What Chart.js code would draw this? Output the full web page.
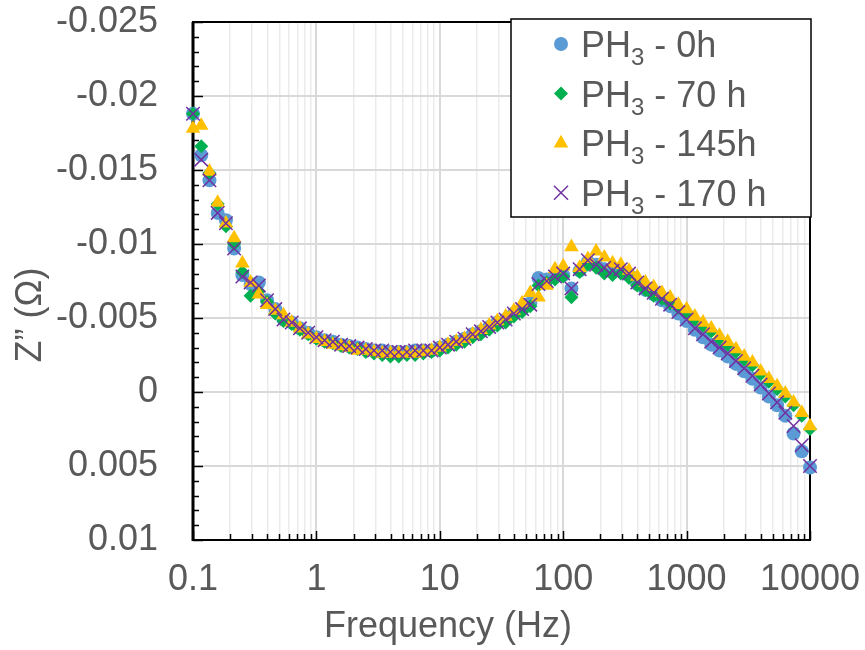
<!DOCTYPE html>
<html>
<head>
<meta charset="utf-8">
<script src="https://cdn.jsdelivr.net/npm/chart.js@4.4.0/dist/chart.umd.min.js"></script>
<style>
  html, body { margin: 0; padding: 0; background: #fff; }
  #wrap { width: 865px; height: 650px; }
</style>
</head>
<body>
<div id="wrap"><canvas id="chart" width="865" height="650"></canvas></div>
<script>
// Impedance spectra, imaginary part Z'' vs frequency, 4 exposure times
const freqHz = [
  0.1, 0.1166, 0.1359, 0.1585, 0.1848, 0.2154, 0.2512, 0.2929, 0.3415, 0.3981, 0.4642, 0.5412, 0.631, 0.7356, 0.8577,
  1, 1.166, 1.359, 1.585, 1.848, 2.154, 2.512, 2.929, 3.415, 3.981, 4.642, 5.412, 6.31, 7.356, 8.577,
  10, 11.66, 13.59, 15.85, 18.48, 21.54, 25.12, 29.29, 34.15, 39.81, 46.42, 54.12, 63.1, 73.56, 85.77,
  100, 116.6, 135.9, 158.5, 184.8, 215.4, 251.2, 292.9, 341.5, 398.1, 464.2, 541.2, 631, 735.6, 857.7,
  1000, 1166, 1359, 1585, 1848, 2154, 2512, 2929, 3415, 3981, 4642, 5412, 6310, 7356, 8577, 10000
];

const z0h = [
  -0.0188, -0.0160, -0.0143, -0.0121, -0.0116, -0.0097, -0.0079, -0.0073, -0.0074, -0.0062, -0.0056, -0.0049, -0.0047, -0.0043, -0.0040,
  -0.0037, -0.0035, -0.0034, -0.0032, -0.0031, -0.0030, -0.0029, -0.0028, -0.0028, -0.0027, -0.0027, -0.0027, -0.0028, -0.0028, -0.0028,
  -0.0030, -0.0032, -0.0034, -0.0036, -0.0039, -0.0041, -0.0044, -0.0047, -0.0049, -0.0053, -0.0056, -0.0060, -0.0077, -0.0076, -0.0078,
  -0.0079, -0.0070, -0.0082, -0.0088, -0.0086, -0.0083, -0.0081, -0.0082, -0.0079, -0.0073, -0.0069, -0.0066, -0.0062, -0.0058, -0.0053,
  -0.0048, -0.0042, -0.0037, -0.0032, -0.0028, -0.0024, -0.0019, -0.0014, -0.0009, -0.0003, 0.0003, 0.0009, 0.0016, 0.0028, 0.0040, 0.0051
];

const z70h = [
  -0.0188, -0.0166, -0.0148, -0.0127, -0.0112, -0.0100, -0.0081, -0.0065, -0.0068, -0.0061, -0.0053, -0.0048, -0.0046, -0.0042, -0.0039,
  -0.0036, -0.0034, -0.0033, -0.0031, -0.0030, -0.0029, -0.0027, -0.0026, -0.0025, -0.0024, -0.0024, -0.0025, -0.0025, -0.0026, -0.0027,
  -0.0028, -0.0030, -0.0032, -0.0034, -0.0037, -0.0039, -0.0042, -0.0045, -0.0047, -0.0051, -0.0054, -0.0058, -0.0072, -0.0074, -0.0076,
  -0.0078, -0.0064, -0.0081, -0.0086, -0.0084, -0.0080, -0.0079, -0.0080, -0.0077, -0.0072, -0.0069, -0.0065, -0.0063, -0.0060, -0.0057,
  -0.0054, -0.0049, -0.0045, -0.0041, -0.0036, -0.0032, -0.0027, -0.0022, -0.0018, -0.0012, -0.0007, -0.0002, 0.0003, 0.0009, 0.0016, 0.0025
];

const z145h = [
  -0.0178, -0.0180, -0.0149, -0.0128, -0.0114, -0.0104, -0.0087, -0.0074, -0.0066, -0.0059, -0.0055, -0.0052, -0.0047, -0.0043, -0.0039,
  -0.0036, -0.0034, -0.0032, -0.0031, -0.0030, -0.0028, -0.0028, -0.0027, -0.0026, -0.0026, -0.0026, -0.0026, -0.0026, -0.0027, -0.0028,
  -0.0030, -0.0032, -0.0034, -0.0036, -0.0039, -0.0042, -0.0045, -0.0048, -0.0051, -0.0055, -0.0060, -0.0067, -0.0064, -0.0072, -0.0083,
  -0.0085, -0.0098, -0.0084, -0.0090, -0.0095, -0.0091, -0.0087, -0.0086, -0.0082, -0.0078, -0.0074, -0.0071, -0.0067, -0.0064, -0.0059,
  -0.0056, -0.0051, -0.0047, -0.0043, -0.0038, -0.0034, -0.0029, -0.0024, -0.0020, -0.0014, -0.0009, -0.0004, 0.0001, 0.0007, 0.0014, 0.0023
];

const z170h = [
  -0.0188, -0.0157, -0.0143, -0.0121, -0.0114, -0.0097, -0.0078, -0.0074, -0.0072, -0.0062, -0.0056, -0.0049, -0.0047, -0.0043, -0.0040,
  -0.0037, -0.0035, -0.0034, -0.0032, -0.0031, -0.0030, -0.0029, -0.0028, -0.0028, -0.0027, -0.0027, -0.0027, -0.0028, -0.0028, -0.0028,
  -0.0030, -0.0032, -0.0034, -0.0036, -0.0039, -0.0041, -0.0044, -0.0047, -0.0049, -0.0053, -0.0056, -0.0059, -0.0073, -0.0075, -0.0078,
  -0.0080, -0.0070, -0.0083, -0.0089, -0.0086, -0.0084, -0.0082, -0.0083, -0.0080, -0.0074, -0.0070, -0.0067, -0.0063, -0.0059, -0.0054,
  -0.0049, -0.0043, -0.0039, -0.0034, -0.0030, -0.0026, -0.0021, -0.0016, -0.0011, -0.0005, 0.0001, 0.0007, 0.0014, 0.0023, 0.0036, 0.0050
];

const seriesLabels = ["0h", "70 h", "145h", "170 h"];
const xDecades = [0.1, 1, 10, 100, 1000, 10000];
const xTickLabels = ["0.1", "1", "10", "100", "1000", "10000"];

const TXT = "#595959";
const FONT = '"Liberation Sans", Arial, sans-serif';

// all 1..9 x 10^n positions for the log grid
var gridFreqs = [];
for (var d = 0; d < xDecades.length - 1; d++) {
  for (var m = 1; m <= 9; m++) gridFreqs.push(xDecades[d] * m);
}
gridFreqs.push(xDecades[xDecades.length - 1]);

function isDecade(v) {
  var l = Math.log10(v);
  return Math.abs(l - Math.round(l)) < 1e-6;
}

function pts(ys) {
  return freqHz.map(function (f, i) { return { x: f, y: ys[i] }; });
}

var styles = [
  { label: seriesLabels[0], data: z0h, shape: "circle", color: "#5B9BD5", r: 7, order: 4 },
  { label: seriesLabels[1], data: z70h, shape: "rectRot", color: "#00B050", r: 7, order: 3 },
  { label: seriesLabels[2], data: z145h, shape: "triangle", color: "#FFC000", r: 8.4, order: 2 },
  { label: seriesLabels[3], data: z170h, shape: "crossRot", color: "#7030A0", r: 9.5, order: 1 }
];

function drawShape(ctx, shape, x, y, r, color) {
  ctx.save();
  ctx.fillStyle = color;
  ctx.strokeStyle = color;
  ctx.beginPath();
  if (shape === "circle") {
    ctx.arc(x, y, r, 0, Math.PI * 2);
    ctx.fill();
  } else if (shape === "rectRot") {
    ctx.moveTo(x - r, y); ctx.lineTo(x, y - r); ctx.lineTo(x + r, y); ctx.lineTo(x, y + r);
    ctx.closePath(); ctx.fill();
  } else if (shape === "triangle") {
    ctx.moveTo(x, y - r);
    ctx.lineTo(x + r * 0.866, y + r / 2);
    ctx.lineTo(x - r * 0.866, y + r / 2);
    ctx.closePath(); ctx.fill();
  } else {
    var o = r * 0.7071;
    ctx.lineWidth = 1.5;
    ctx.moveTo(x - o, y - o); ctx.lineTo(x + o, y + o);
    ctx.moveTo(x + o, y - o); ctx.lineTo(x - o, y + o);
    ctx.stroke();
  }
  ctx.restore();
}

function noEdgePadding(s) {
  s.paddingTop = 0;
  s.paddingBottom = 0;
  s.paddingLeft = 0;
  s.paddingRight = 0;
}

/* ── plot frame, inner tick marks, titles, legend ── */
var framePlugin = {
  id: "frame",
  beforeDraw: function (chart) {
    var ctx = chart.ctx;
    ctx.save();
    ctx.fillStyle = "#fff";
    ctx.fillRect(0, 0, chart.width, chart.height);
    ctx.restore();
  },
  beforeDatasetsDraw: function (chart) {
    var ctx = chart.ctx, a = chart.chartArea;
    var xs = chart.scales.x, ys = chart.scales.y;
    ctx.save();
    ctx.strokeStyle = "#000";
    ctx.lineWidth = 1.5;
    ctx.beginPath();
    for (var i = 0; i <= 35; i++) {
      var py = Math.round(ys.getPixelForValue(-0.025 + i * 0.001)) + 0.5;
      ctx.moveTo(a.left, py);
      ctx.lineTo(a.left + (i % 5 === 0 ? 10 : 6), py);
    }
    gridFreqs.forEach(function (f) {
      var px = Math.round(xs.getPixelForValue(f)) + 0.5;
      ctx.moveTo(px, a.bottom);
      ctx.lineTo(px, a.bottom - (isDecade(f) ? 9 : 6));
    });
    ctx.stroke();
    ctx.lineWidth = 2;
    ctx.strokeRect(a.left, a.top, a.right - a.left, a.bottom - a.top);
    ctx.lineWidth = 3;
    ctx.beginPath();
    ctx.moveTo(a.left, a.top);
    ctx.lineTo(a.left, a.bottom + 1);
    ctx.stroke();
    ctx.restore();
  },
  afterDraw: function (chart) {
    var ctx = chart.ctx;
    ctx.save();
    // axis titles
    ctx.fillStyle = TXT;
    ctx.font = "36px " + FONT;
    ctx.textAlign = "center";
    ctx.textBaseline = "middle";
    ctx.fillText("Frequency (Hz)", 448, 627);
    ctx.translate(31, 315);
    ctx.rotate(-Math.PI / 2);
    ctx.fillText("Z\u201d (\u03a9)", 0, 0);
    ctx.restore();

    // legend box
    ctx.save();
    ctx.fillStyle = "#fff";
    ctx.fillRect(511, 19, 300, 198);
    ctx.strokeStyle = "#000";
    ctx.lineWidth = 1.5;
    ctx.strokeRect(511, 19, 300, 198);
    ctx.textBaseline = "alphabetic";
    ctx.textAlign = "left";
    styles.forEach(function (s, i) {
      var cy = 44 + i * 49.6;
      drawShape(ctx, s.shape, 561, cy, s.shape === "crossRot" ? 9.9 : s.r, s.color);
      var base = cy + 13;
      var x = 581;
      ctx.fillStyle = TXT;
      ctx.font = "36px " + FONT;
      ctx.fillText("PH", x, base);
      x += ctx.measureText("PH").width;
      ctx.font = "24px " + FONT;
      ctx.fillText("3", x, base + 8);
      x += ctx.measureText("3").width;
      ctx.font = "36px " + FONT;
      ctx.fillText(" - " + s.label, x, base);
    });
    ctx.restore();
  }
};

var datasets = styles.map(function (s) {
  return {
    label: "PH3 - " + s.label,
    data: pts(s.data),
    pointStyle: s.shape,
    pointRadius: s.r,
    pointHoverRadius: s.r,
    backgroundColor: s.color,
    borderColor: s.color,
    borderWidth: s.shape === "crossRot" ? 1.5 : 0,
    showLine: false,
    clip: false,
    order: s.order
  };
});

new Chart(document.getElementById("chart").getContext("2d"), {
  type: "scatter",
  data: { datasets: datasets },
  plugins: [framePlugin],
  options: {
    responsive: false,
    animation: false,
    layout: { padding: { top: 22, right: 55, left: 0, bottom: 0 } },
    plugins: { legend: { display: false }, tooltip: { enabled: false } },
    scales: {
      x: {
        type: "logarithmic",
        min: 0.1,
        max: 10000,
        afterFit: function (s) { s.height = 110; noEdgePadding(s); },
        afterBuildTicks: function (s) {
          s.ticks = gridFreqs.map(function (f) { return { value: f, major: isDecade(f) }; });
        },
        border: { display: false },
        grid: {
          drawTicks: false,
          color: function (c) { return c.tick && isDecade(c.tick.value) ? "#d9d9d9" : "#ebebeb"; },
          lineWidth: function (c) { return c.tick && isDecade(c.tick.value) ? 2 : 1.5; }
        },
        ticks: {
          autoSkip: false,
          maxRotation: 0,
          padding: 18,
          color: TXT,
          font: { family: FONT, size: 36 },
          callback: function (v) {
            var i = xDecades.findIndex(function (d) { return Math.abs(d - v) / d < 1e-6; });
            return i >= 0 ? xTickLabels[i] : "";
          }
        }
      },
      y: {
        type: "linear",
        reverse: true,
        min: -0.025,
        max: 0.01,
        afterFit: function (s) { s.width = 193; noEdgePadding(s); },
        border: { display: false },
        grid: { drawTicks: false, color: "#d9d9d9", lineWidth: 2 },
        ticks: {
          stepSize: 0.005,
          padding: 35,
          color: TXT,
          font: { family: FONT, size: 36 },
          callback: function (v) { return String(Math.round(v * 1000) / 1000); }
        }
      }
    }
  }
});
</script>
</body>
</html>
